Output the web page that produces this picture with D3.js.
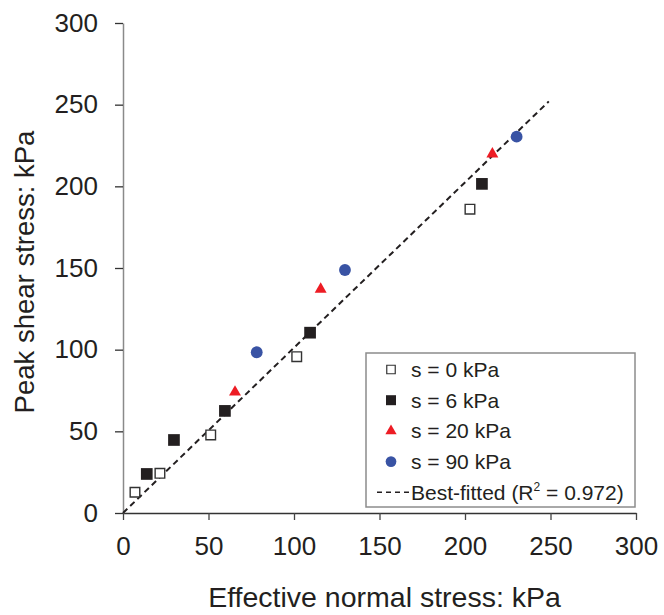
<!DOCTYPE html>
<html>
<head>
<meta charset="utf-8">
<script src="https://cdn.jsdelivr.net/npm/d3@7"></script>
<style>
  body { margin: 0; background: #fff; }
  svg text { font-family: "Liberation Sans", Arial, sans-serif; fill: #231f20; }
</style>
</head>
<body>
<div id="chart-area"></div>
<script>
// values
const s0X = [7, 21.6, 51.3, 101.6, 202.9];
const s0Y = [12.7, 24.3, 47.8, 95.7, 186];
const s6X = [13.9, 29.8, 59.6, 109.4, 209.9];
const s6Y = [23.9, 44.7, 62.5, 110.4, 201.5];
const s20X = [65.5, 115.6, 216];
const s20Y = [74, 137, 219.8];
const s90X = [78.2, 129.8, 230.2];
const s90Y = [98.4, 148.8, 230.4];
const fitX = [0, 249];
const fitY = [0, 252];
const xTicks = [0, 50, 100, 150, 200, 250, 300];
const yTicks = [0, 50, 100, 150, 200, 250, 300];
const legendLabels = ["s = 0 kPa", "s = 6 kPa", "s = 20 kPa", "s = 90 kPa"];

let margin = {top: 23, right: 28, bottom: 102, left: 123};
let width = 664 - margin.left - margin.right,
    height = 615 - margin.top - margin.bottom;

let svg = d3.select("#chart-area").append("svg")
    .attr("width", 664)
    .attr("height", 615)
    .append("g")
    .attr("transform", "translate(" + margin.left + "," + margin.top + ")");

let x = d3.scaleLinear().domain([0, 300]).range([0, width]);
let y = d3.scaleLinear().domain([0, 300]).range([height, 0]);

// axes
let xAxis = svg.append("g")
    .attr("transform", "translate(0," + height + ")")
    .call(d3.axisBottom(x).tickValues(xTicks).tickSize(7).tickPadding(17).tickSizeOuter(0));
xAxis.select(".domain").attr("stroke", "#333").attr("stroke-width", 1.3);
xAxis.selectAll(".tick line").attr("stroke", "#444").attr("stroke-width", 1.3);
xAxis.selectAll(".tick text")
    .attr("font-size", 26)
    .attr("fill", "#231f20");

let yAxis = svg.append("g")
    .call(d3.axisLeft(y).tickValues(yTicks).tickSize(8).tickPadding(17).tickSizeOuter(0));
yAxis.select(".domain").attr("stroke", "#8a8a8a").attr("stroke-width", 1.5);
yAxis.selectAll(".tick line").attr("stroke", "#333").attr("stroke-width", 1.3);
yAxis.selectAll(".tick text")
    .attr("font-size", 26)
    .attr("fill", "#231f20");

svg.selectAll(".tick text").style("font-family", "'Liberation Sans', Arial, sans-serif");

// axis titles
svg.append("text")
    .attr("x", width / 2 + 5)
    .attr("y", height + 94)
    .attr("text-anchor", "middle")
    .attr("font-size", 28.5)
    .text("Effective normal stress: kPa");

svg.append("text")
    .attr("transform", "rotate(-90)")
    .attr("x", -height / 2 - 4)
    .attr("y", -89)
    .attr("text-anchor", "middle")
    .attr("font-size", 27.5)
    .text("Peak shear stress: kPa");

// best fit line
let line = d3.line().x(d => x(d[0])).y(d => y(d[1]));
svg.append("path")
    .datum(d3.zip(fitX, fitY))
    .attr("d", line)
    .attr("fill", "none")
    .attr("stroke", "#231f20")
    .attr("stroke-width", 2)
    .attr("stroke-dasharray", "6,4");

// series
const series = [
    {xs: s0X, ys: s0Y, type: d3.symbolSquare, size: 92, fill: "#fff", stroke: "#333"},
    {xs: s6X, ys: s6Y, type: d3.symbolSquare, size: 137, fill: "#231f20", stroke: "none"},
    {xs: s20X, ys: s20Y, type: d3.symbolTriangle, size: 62, fill: "#ed1c24", stroke: "none"},
    {xs: s90X, ys: s90Y, type: d3.symbolCircle, size: 110, fill: "#3953a4", stroke: "none"}
];

series.forEach(s => {
    svg.append("g").selectAll("path")
        .data(d3.zip(s.xs, s.ys))
        .enter().append("path")
        .attr("transform", d => "translate(" + x(d[0]) + "," + y(d[1]) + ")")
        .attr("d", d3.symbol().type(s.type).size(s.size))
        .attr("fill", s.fill)
        .attr("stroke", s.stroke)
        .attr("stroke-width", 1.4);
});

// legend
let legend = svg.append("g")
    .attr("transform", "translate(" + (366 - margin.left) + "," + (353 - margin.top) + ")");

legend.append("rect")
    .attr("width", 269)
    .attr("height", 154)
    .attr("fill", "#fff")
    .attr("stroke", "#8c8c8c")
    .attr("stroke-width", 1.5);

const legendSizes = [72, 100, 55, 90];
series.forEach((s, i) => {
    let ry = 16.5 + i * 30.7;
    legend.append("path")
        .attr("transform", "translate(25," + ry + ")")
        .attr("d", d3.symbol().type(s.type).size(legendSizes[i]))
        .attr("fill", s.fill)
        .attr("stroke", s.stroke)
        .attr("stroke-width", 1.2);
    legend.append("text")
        .attr("x", 45)
        .attr("y", ry + 7.5)
        .attr("font-size", 21)
        .text(legendLabels[i]);
});

let fy = 16.5 + 4 * 30.7;
legend.append("line")
    .attr("x1", 11).attr("x2", 43)
    .attr("y1", fy).attr("y2", fy)
    .attr("stroke", "#231f20")
    .attr("stroke-width", 1.5)
    .attr("stroke-dasharray", "5,4");

let fitText = legend.append("text")
    .attr("x", 45)
    .attr("y", fy + 7.5)
    .attr("font-size", 21);
fitText.append("tspan").text("Best-fitted (R");
fitText.append("tspan").attr("font-size", 12).attr("dy", -9).text("2");
fitText.append("tspan").attr("dy", 9).text(" = 0.972)");
</script>
</body>
</html>
